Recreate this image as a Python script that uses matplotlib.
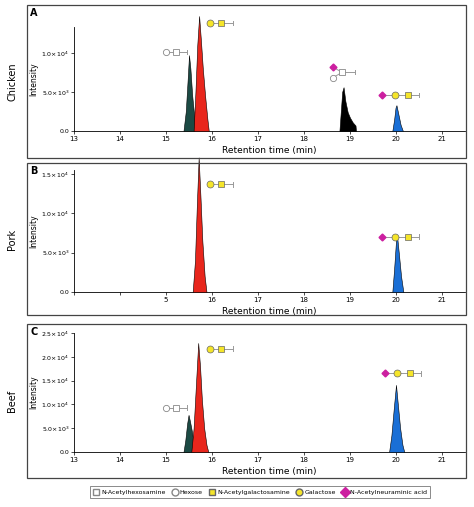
import matplotlib
matplotlib.use("Agg")
import matplotlib.pyplot as plt
from matplotlib.patches import Rectangle
from matplotlib.lines import Line2D

W, H = 474, 507
fig = plt.figure(figsize=(W/100, H/100), dpi=100)

DKG, RED, BLK, BLU = "#1c4a44", "#e8261c", "#000000", "#1a6fd6"

# ---- data: (times, intensities) per peak ----
ch_hexnac_t = [15.38, 15.43, 15.47, 15.50, 15.53, 15.57, 15.62]
ch_hexnac_y = [0, 2500, 6500, 9700, 8000, 4500, 1500]
ch_core1_t = [15.60, 15.64, 15.68, 15.72, 15.76, 15.80, 15.85, 15.90, 15.93]
ch_core1_y = [0, 5000, 11000, 14700, 11500, 8000, 4500, 1500, 0]
ch_sia2_t = [18.77, 18.80, 18.83, 18.86, 18.90, 18.95, 19.00, 19.06, 19.12, 19.13]
ch_sia2_y = [0, 2500, 5000, 5600, 3800, 2400, 1700, 1100, 700, 0]
ch_sia1_t = [19.92, 19.96, 19.99, 20.01, 20.05, 20.10, 20.15]
ch_sia1_y = [0, 1500, 3000, 3300, 2200, 800, 0]

pk_core1_t = [15.58, 15.63, 15.67, 15.71, 15.75, 15.79, 15.84, 15.88]
pk_core1_y = [0, 4000, 11000, 17100, 12000, 6500, 2000, 0]
pk_sia1_t = [19.92, 19.96, 20.00, 20.02, 20.06, 20.11, 20.16]
pk_sia1_y = [0, 3000, 6500, 7300, 5000, 2000, 0]

bf_hexnac_t = [15.38, 15.42, 15.46, 15.49, 15.52, 15.56, 15.60]
bf_hexnac_y = [0, 2500, 6000, 7800, 6500, 4500, 2000]
bf_core1_t = [15.55, 15.60, 15.65, 15.70, 15.74, 15.78, 15.83, 15.88, 15.92]
bf_core1_y = [0, 5000, 14000, 22900, 18000, 11000, 5000, 1500, 0]
bf_sia1_t = [19.85, 19.90, 19.95, 20.00, 20.04, 20.09, 20.14, 20.18]
bf_sia1_y = [0, 3500, 9000, 14100, 10000, 5000, 1500, 0]

xticks = [13, 14, 15, 16, 17, 18, 19, 20, 21]
ticklabels_full = ["13", "14", "15", "16", "17", "18", "19", "20", "21"]
ticklabels_pork = ["", "", "5", "16", "17", "18", "19", "20", "21"]

def fy(py):
    return 1 - py / H

def glycan(ax, x0, y, syms, xend):
    xs = [s[0] for s in syms]
    ax.plot([min(xs), xend], [y, y], color="#999999", lw=0.7, zorder=5, clip_on=False)
    ax.plot([xend, xend], [y - ax.get_ylim()[1]*0.02, y + ax.get_ylim()[1]*0.02],
            color="#999999", lw=0.7, clip_on=False, zorder=5)
    for x, kind in syms:
        if kind == "sq":
            ax.plot(x, y, "s", ms=4.5, mfc="white", mec="#888888", mew=0.6, zorder=6, clip_on=False)
        elif kind == "ci":
            ax.plot(x, y, "o", ms=4.5, mfc="white", mec="#888888", mew=0.6, zorder=6, clip_on=False)
        elif kind == "ysq":
            ax.plot(x, y, "s", ms=5, mfc="#f5e52a", mec="#666666", mew=0.5, zorder=6, clip_on=False)
        elif kind == "yci":
            ax.plot(x, y, "o", ms=5, mfc="#f5e52a", mec="#666666", mew=0.5, zorder=6, clip_on=False)
        elif kind == "dia":
            ax.plot(x, y, "D", ms=3.5, mfc="#cc1fa0", mec="#cc1fa0", zorder=6, clip_on=False)

def make_axes(top, bot, ymax_px_val, yticks, ylabels, xlabels, peaks, box, letter, name):
    x0, x1 = 74, 465
    # compute y-range: bottom=0 at bot px
    ax = fig.add_axes([x0/W, fy(bot), (x1-x0)/W, (bot-top)/H])
    ax.set_xlim(13, 13 + 8 * (x1 - x0) / (442 - 74))
    ax.set_ylim(0, ymax_px_val)
    for t, y, c in peaks:
        ax.fill_between(t, y, color=c, lw=0.4, edgecolor="black", zorder=3, clip_on=False)
    ax.spines["top"].set_visible(False)
    ax.spines["right"].set_visible(False)
    for s in ("left", "bottom"):
        ax.spines[s].set_linewidth(0.6)
    ax.set_xticks(xticks)
    ax.set_xticklabels(xlabels, fontsize=5)
    ax.set_yticks(yticks)
    ax.set_yticklabels(ylabels, fontsize=4.5)
    ax.tick_params(length=2, width=0.5, pad=1.5)
    ax.set_ylabel("Intensity", fontsize=5.5, labelpad=2)
    ax.set_xlabel("Retention time (min)", fontsize=6.5, labelpad=3)
    ax.patch.set_alpha(0)
    bx0, by0, bx1, by1 = box
    fig.patches.append(Rectangle((bx0/W, fy(by1)), (bx1-bx0)/W, (by1-by0)/H,
                                 transform=fig.transFigure, fill=False, ec="#444444", lw=0.9))
    fig.text(30/W, fy(by0 + 8), letter, fontsize=7, fontweight="bold", va="center")
    fig.text(12/W, fy((by0 + by1) / 2), name, fontsize=7, rotation=90, va="center", ha="center")
    return ax

lab = lambda s: s
axA = make_axes(27, 131, 13300, [0, 5000, 10000],
                ["0.0", r"5.0×10$^3$", r"1.0×10$^4$"], ticklabels_full,
                [(ch_hexnac_t, ch_hexnac_y, DKG), (ch_core1_t, ch_core1_y, RED),
                 (ch_sia2_t, ch_sia2_y, BLK), (ch_sia1_t, ch_sia1_y, BLU)],
                (27, 5, 466, 158), "A", "Chicken")
glycan(axA, 0, 10100, [(15.0, "ci"), (15.22, "sq")], 15.45)
glycan(axA, 0, 13800, [(15.95, "yci"), (16.2, "ysq")], 16.45)
glycan(axA, 0, 4600, [(19.7, "dia"), (19.98, "yci"), (20.25, "ysq")], 20.5)
# branched glycan
axA.plot([18.62, 18.83, 18.62], [8200, 7500, 6800], color="#999999", lw=0.7, zorder=5)
glycan(axA, 0, 7500, [(18.83, "sq")], 19.1)
glycan(axA, 0, 8200, [(18.62, "dia")], 18.62)
glycan(axA, 0, 6800, [(18.62, "ci")], 18.62)

axB = make_axes(170, 292, 15500, [0, 5000, 10000, 15000],
                ["0.0", r"5.0×10$^3$", r"1.0×10$^4$", r"1.5×10$^4$"], ticklabels_pork,
                [(pk_core1_t, pk_core1_y, RED), (pk_sia1_t, pk_sia1_y, BLU)],
                (27, 163, 466, 315), "B", "Pork")
glycan(axB, 0, 13700, [(15.95, "yci"), (16.2, "ysq")], 16.45)
glycan(axB, 0, 7000, [(19.7, "dia"), (19.98, "yci"), (20.25, "ysq")], 20.5)

axC = make_axes(333, 452, 25000, [0, 5000, 10000, 15000, 20000, 25000],
                ["0.0", r"5.0×10$^3$", r"1.0×10$^4$", r"1.5×10$^4$", r"2.0×10$^4$", r"2.5×10$^4$"],
                ticklabels_full,
                [(bf_hexnac_t, bf_hexnac_y, DKG), (bf_core1_t, bf_core1_y, RED),
                 (bf_sia1_t, bf_sia1_y, BLU)],
                (27, 324, 466, 478), "C", "Beef")
glycan(axC, 0, 9300, [(15.0, "ci"), (15.22, "sq")], 15.45)
glycan(axC, 0, 21700, [(15.95, "yci"), (16.2, "ysq")], 16.45)
glycan(axC, 0, 16500, [(19.77, "dia"), (20.02, "yci"), (20.3, "ysq")], 20.55)

legend_names = ["N-Acetylhexosamine", "Hexose", "N-Acetylgalactosamine", "Galactose", "N-Acetylneuraminic acid"]
handles = [
    Line2D([], [], ls="", marker="s", ms=5, mfc="white", mec="#888888"),
    Line2D([], [], ls="", marker="o", ms=5, mfc="white", mec="#888888"),
    Line2D([], [], ls="", marker="s", ms=5, mfc="#f5e52a", mec="#666666"),
    Line2D([], [], ls="", marker="o", ms=5, mfc="#f5e52a", mec="#666666"),
    Line2D([], [], ls="", marker="D", ms=5, mfc="#cc1fa0", mec="#cc1fa0"),
]
leg = fig.legend(handles, legend_names, ncol=5, fontsize=4.5, loc="center",
                 bbox_to_anchor=(260/W, fy(492)), frameon=True, fancybox=False,
                 handletextpad=0.3, columnspacing=1.0, borderpad=0.5, handlelength=1.0)
leg.get_frame().set_edgecolor("#555555")
leg.get_frame().set_linewidth(0.6)

fig.savefig("out.png", dpi=100)
